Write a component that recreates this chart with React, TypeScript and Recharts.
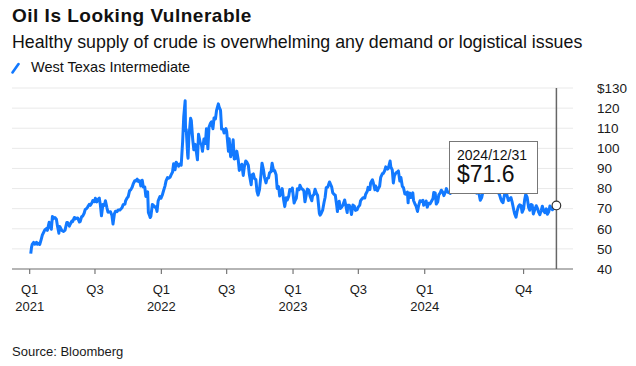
import React from 'react'
import { LineChart, Line, XAxis, YAxis, CartesianGrid, Tooltip } from 'recharts'

// WTI front-month close (MM-DD per year)
const dates2021 = [
  '01-04', '01-06', '01-08', '01-12', '01-15', '01-20', '01-22', '01-27', '01-29', '02-02', '02-05', '02-09',
  '02-12', '02-16', '02-19', '02-24', '02-26', '03-02', '03-05', '03-08', '03-12', '03-16', '03-19', '03-23',
  '03-24', '03-26', '03-31', '04-05', '04-09', '04-14', '04-16', '04-21', '04-23', '04-28', '04-30', '05-05',
  '05-07', '05-11', '05-14', '05-19', '05-21', '05-25', '05-28', '06-01', '06-04', '06-08', '06-11', '06-15',
  '06-18', '06-23', '06-25', '06-30', '07-02', '07-06', '07-09', '07-13', '07-16', '07-19', '07-23', '07-27',
  '07-30', '08-03', '08-06', '08-10', '08-13', '08-17', '08-20', '08-24', '08-27', '08-31', '09-03', '09-08',
  '09-10', '09-14', '09-17', '09-22', '09-24', '09-28', '10-01', '10-05', '10-08', '10-12', '10-15', '10-19',
  '10-22', '10-26', '10-29', '11-02', '11-05', '11-09', '11-12', '11-16', '11-19', '11-24', '11-26', '11-30',
  '12-01', '12-03', '12-07', '12-10', '12-14', '12-17', '12-20', '12-23', '12-28', '12-31'
]
const wti2021 = [
  47.62, 50.63, 52.24, 53.21, 52.36, 53.31, 52.27, 52.85, 52.2, 54.76, 56.85, 58.36,
  59.47, 60.05, 59.24, 63.22, 61.5, 59.75, 66.09, 65.05, 65.61, 64.8, 61.42, 57.76,
  61.18, 60.97, 59.16, 58.65, 59.32, 63.15, 63.13, 61.35, 62.14, 63.86, 63.58, 65.63,
  64.9, 65.28, 65.37, 63.36, 63.58, 66.07, 66.32, 67.72, 69.62, 70.05, 70.91, 72.12,
  71.64, 73.08, 74.05, 73.47, 75.16, 73.37, 74.56, 75.25, 71.81, 66.42, 72.07, 71.65,
  73.95, 70.56, 68.28, 68.29, 68.44, 66.59, 62.32, 67.54, 68.74, 68.5, 69.29, 69.3,
  69.72, 70.46, 71.97, 72.23, 73.98, 75.29, 75.88, 78.93, 79.35, 80.64, 82.28, 83.87,
  83.76, 84.65, 83.57, 83.91, 81.27, 84.15, 80.79, 80.76, 76.1, 78.39, 68.15, 66.18,
  65.57, 66.26, 72.05, 71.67, 70.73, 70.86, 68.61, 73.79, 75.98, 75.21
]

const dates2022 = [
  '01-04', '01-07', '01-11', '01-14', '01-18', '01-21', '01-25', '01-28', '02-01', '02-04', '02-08', '02-11',
  '02-15', '02-18', '02-22', '02-25', '03-01', '03-04', '03-08', '03-09', '03-11', '03-15', '03-16', '03-18',
  '03-23', '03-25', '03-29', '04-01', '04-05', '04-08', '04-11', '04-14', '04-19', '04-22', '04-25', '04-29',
  '05-03', '05-06', '05-10', '05-13', '05-17', '05-20', '05-24', '05-27', '05-31', '06-03', '06-08', '06-10',
  '06-14', '06-17', '06-21', '06-24', '06-29', '07-01', '07-06', '07-08', '07-12', '07-15', '07-19', '07-22',
  '07-26', '07-29', '08-02', '08-05', '08-09', '08-12', '08-16', '08-19', '08-23', '08-26', '08-30', '09-02',
  '09-07', '09-09', '09-13', '09-16', '09-20', '09-23', '09-26', '09-30', '10-04', '10-07', '10-11', '10-14',
  '10-18', '10-21', '10-25', '10-28', '11-01', '11-04', '11-08', '11-11', '11-15', '11-18', '11-22', '11-25',
  '11-28', '12-02', '12-06', '12-09', '12-13', '12-16', '12-20', '12-23', '12-28', '12-30'
]
const wti2022 = [
  76.99, 78.9, 81.22, 83.82, 85.43, 85.14, 85.6, 86.82, 88.2, 92.31, 89.36, 93.1,
  92.07, 91.07, 92.35, 91.59, 103.41, 115.68, 123.7, 108.7, 109.33, 96.44, 95.04, 104.7,
  114.93, 113.9, 104.24, 99.27, 101.96, 98.26, 94.29, 106.95, 102.56, 102.07, 98.54, 104.69,
  102.41, 109.77, 99.76, 110.49, 112.4, 113.23, 109.77, 115.07, 114.67, 118.87, 122.11, 120.67,
  118.93, 109.56, 109.52, 107.62, 109.78, 108.43, 98.53, 104.79, 95.84, 97.59, 104.22, 94.7,
  94.98, 98.62, 94.42, 89.01, 90.5, 92.09, 86.53, 90.77, 93.74, 93.06, 91.64, 86.87,
  81.94, 86.79, 87.31, 85.11, 84.45, 78.74, 76.71, 79.49, 86.52, 92.64, 89.35, 85.61,
  82.82, 85.05, 85.32, 87.9, 88.37, 92.61, 88.91, 88.96, 86.92, 80.08, 80.95, 76.28,
  77.24, 79.98, 74.25, 71.02, 75.39, 74.29, 76.23, 79.56, 78.96, 80.26
]

const dates2023 = [
  '01-04', '01-06', '01-10', '01-13', '01-18', '01-20', '01-24', '01-27', '01-31', '02-03', '02-07', '02-10',
  '02-14', '02-17', '02-22', '02-24', '02-28', '03-03', '03-07', '03-10', '03-15', '03-17', '03-20', '03-24',
  '03-28', '03-31', '04-03', '04-07', '04-12', '04-14', '04-18', '04-21', '04-25', '04-28', '05-02', '05-04',
  '05-05', '05-09', '05-12', '05-16', '05-19', '05-24', '05-26', '05-31', '06-02', '06-06', '06-09', '06-12',
  '06-16', '06-20', '06-23', '06-28', '06-30', '07-05', '07-07', '07-11', '07-14', '07-19', '07-21', '07-26',
  '07-28', '08-02', '08-04', '08-09', '08-11', '08-16', '08-18', '08-23', '08-25', '08-29', '09-01', '09-06',
  '09-08', '09-12', '09-15', '09-20', '09-22', '09-27', '09-29', '10-03', '10-06', '10-09', '10-13', '10-18',
  '10-20', '10-24', '10-27', '10-31', '11-03', '11-07', '11-10', '11-14', '11-16', '11-17', '11-21', '11-24',
  '11-29', '12-01', '12-05', '12-08', '12-12', '12-15', '12-19', '12-22', '12-27', '12-29'
]
const wti2023 = [
  72.84, 73.77, 75.12, 79.86, 79.48, 81.64, 80.13, 79.68, 78.87, 73.39, 77.14, 79.72,
  79.06, 76.34, 73.95, 76.32, 77.05, 79.68, 77.58, 76.68, 67.61, 66.74, 67.64, 69.26,
  73.2, 75.67, 80.42, 80.7, 83.26, 82.52, 80.86, 77.87, 77.07, 76.78, 71.66, 68.56,
  71.34, 73.71, 70.04, 70.86, 71.69, 74.34, 72.67, 68.09, 71.74, 71.74, 70.17, 67.12,
  71.78, 71.19, 69.16, 69.56, 70.64, 71.79, 73.86, 74.83, 75.42, 75.35, 77.07, 78.78,
  80.58, 79.49, 82.82, 84.4, 83.19, 79.38, 81.25, 78.89, 79.83, 81.16, 85.55, 87.54,
  87.51, 88.84, 90.77, 89.66, 90.03, 93.68, 90.79, 89.23, 82.79, 86.38, 87.69, 88.32,
  88.75, 83.74, 85.54, 81.02, 80.51, 77.37, 77.17, 78.26, 72.9, 75.89, 77.77, 75.54,
  77.86, 74.07, 72.32, 71.23, 68.61, 71.43, 73.94, 73.56, 74.11, 71.65
]

const dates2024 = [
  '01-03', '01-05', '01-08', '01-12', '01-16', '01-19', '01-24', '01-26', '01-30', '02-02', '02-06', '02-09',
  '02-13', '02-16', '02-21', '02-23', '02-28', '03-01', '03-05', '03-08', '03-12', '03-15', '03-19', '03-22',
  '03-26', '03-28', '04-02', '04-05', '04-09', '04-12', '04-17', '04-19', '04-24', '04-26', '04-30', '05-03',
  '05-07', '05-10', '05-14', '05-17', '05-21', '05-24', '05-29', '05-31', '06-03', '06-07', '06-11', '06-14',
  '06-18', '06-21', '06-25', '06-28', '07-03', '07-05', '07-09', '07-12', '07-16', '07-19', '07-24', '07-26',
  '07-30', '08-02', '08-05', '08-09', '08-13', '08-16', '08-20', '08-23', '08-27', '08-30', '09-04', '09-06',
  '09-10', '09-13', '09-17', '09-20', '09-24', '09-27', '10-01', '10-04', '10-07', '10-11', '10-15', '10-18',
  '10-22', '10-25', '10-28', '11-01', '11-05', '11-08', '11-12', '11-15', '11-19', '11-22', '11-26', '11-29',
  '12-03', '12-06', '12-10', '12-13', '12-17', '12-20', '12-24', '12-27', '12-31'
]
const wti2024 = [
  72.7, 73.81, 70.77, 72.68, 72.4, 73.41, 75.09, 78.01, 77.82, 72.28, 73.31, 76.84,
  77.87, 79.19, 77.91, 76.49, 78.54, 79.97, 78.15, 78.01, 77.56, 81.04, 83.47, 80.63,
  81.62, 83.17, 85.15, 86.91, 85.23, 85.66, 82.69, 83.14, 82.81, 83.85, 81.93, 78.11,
  78.38, 78.26, 78.02, 80.06, 79.26, 77.72, 79.23, 76.99, 74.22, 75.53, 78.9, 78.45,
  81.57, 80.73, 80.83, 81.54, 83.88, 83.16, 81.41, 82.21, 80.76, 80.13, 77.59, 77.16,
  74.73, 73.52, 72.94, 76.84, 78.35, 76.65, 74.04, 74.83, 75.53, 73.55, 69.2, 67.67,
  65.75, 68.65, 71.19, 71.92, 71.56, 68.18, 69.83, 74.38, 77.14, 75.56, 70.58, 69.22,
  72.09, 71.78, 67.38, 69.49, 71.47, 70.38, 68.12, 67.02, 69.16, 71.24, 68.77, 68.0,
  69.94, 67.2, 68.59, 71.29, 70.08, 69.46, 70.1, 70.6, 71.6
]

const xTickDates = ['2021-01-01', '2021-07-01', '2022-01-01', '2022-07-01', '2023-01-01', '2023-07-01', '2024-01-01', '2024-10-01']
const quarterLabels = ['Q1', 'Q3', 'Q1', 'Q3', 'Q1', 'Q3', 'Q1', 'Q4']
const yearLabels = ['2021', '', '2022', '', '2023', '', '2024', '']
const yTicks = [40, 50, 60, 70, 80, 90, 100, 110, 120, 130]

const FONT = "'Liberation Sans', Arial, Helvetica, sans-serif"
const BLUE = '#1279ff'
const DAY = 86400000
const START = Date.UTC(2021, 0, 1)

const toDay = (iso: string) => {
  const [y, m, d] = iso.split('-').map(Number)
  return Math.round((Date.UTC(y, m - 1, d) - START) / DAY)
}

const years = [
  { year: 2021, dates: dates2021, values: wti2021 },
  { year: 2022, dates: dates2022, values: wti2022 },
  { year: 2023, dates: dates2023, values: wti2023 },
  { year: 2024, dates: dates2024, values: wti2024 }
]

const data = years.flatMap(({ year, dates, values }) =>
  dates.map((md, i) => ({
    day: toDay(`${year}-${md}`),
    label: `${year}/${md.replace('-', '/')}`,
    price: values[i]
  }))
)

const xTicks = xTickDates.map(toDay)

function QuarterTick({ x, y, payload }: any) {
  const i = xTicks.indexOf(payload.value)
  return (
    <text x={x} y={y} textAnchor="middle" fill="#1a1a1a" fontSize={13} fontFamily={FONT}>
      <tspan x={x} dy={18}>{quarterLabels[i]}</tspan>
      {yearLabels[i] && <tspan x={x} dy={17}>{yearLabels[i]}</tspan>}
    </text>
  )
}

function PriceBox({ payload }: any) {
  if (!payload || !payload.length) return null
  const p = payload[0].payload
  return (
    <div
      style={{
        width: 89,
        height: 53,
        boxSizing: 'border-box',
        background: '#fff',
        border: '1.5px solid #777',
        padding: '6px 0 0 7px',
        fontFamily: FONT,
        color: '#111'
      }}
    >
      <div style={{ fontSize: 14, lineHeight: '14px' }}>{p.label}</div>
      <div style={{ fontSize: 23, lineHeight: '23px', marginTop: 1 }}>${p.price.toFixed(1)}</div>
    </div>
  )
}

export default function App() {
  return (
    <div style={{ position: 'absolute', left: 0, top: 0, width: 636, height: 366, background: '#fff', fontFamily: FONT, color: '#111' }}>
      <div style={{ position: 'absolute', left: 12, top: 6, fontSize: 19, lineHeight: '20px', fontWeight: 700, letterSpacing: 0.5 }}>
        Oil Is Looking Vulnerable
      </div>
      <div style={{ position: 'absolute', left: 12, top: 34, fontSize: 17.8, lineHeight: '17px', whiteSpace: 'nowrap' }}>
        Healthy supply of crude is overwhelming any demand or logistical issues
      </div>
      <div style={{ position: 'absolute', left: 11, top: 60, fontSize: 14.5, lineHeight: '15px', display: 'flex', alignItems: 'center' }}>
        <svg width={10} height={12} style={{ marginRight: 10 }}>
          <line x1={1.5} y1={10.5} x2={7.5} y2={2} stroke={BLUE} strokeWidth={2.6} strokeLinecap="round" />
        </svg>
        West Texas Intermediate
      </div>
      <div style={{ position: 'absolute', left: 12, top: 345, fontSize: 13, lineHeight: '13px', color: '#1a1a1a' }}>
        Source: Bloomberg
      </div>

      <LineChart width={636} height={366} data={data} margin={{ top: 88, right: 0, bottom: 0, left: 12 }}>
        <CartesianGrid horizontal vertical={false} stroke="#e9e9e9" strokeWidth={1} />
        <XAxis
          dataKey="day"
          type="number"
          domain={[-49, 1506]}
          ticks={xTicks}
          tick={<QuarterTick />}
          height={97}
          axisLine={{ stroke: '#777', strokeWidth: 1.2 }}
          tickLine={{ stroke: '#777', strokeWidth: 1.2 }}
          tickSize={5}
          interval={0}
        />
        <YAxis
          orientation="right"
          type="number"
          domain={[40, 130]}
          ticks={yTicks}
          interval={0}
          width={63}
          axisLine={false}
          tickLine={false}
          tickSize={6}
          tickMargin={18}
          tick={{ fill: '#1a1a1a', fontSize: 13.5, fontFamily: FONT }}
          tickFormatter={(v: number) => (v === 130 ? `$${v}` : `${v}`)}
        />
        <Tooltip
          active
          defaultIndex={data.length - 1}
          isAnimationActive={false}
          position={{ x: 449, y: 141 }}
          cursor={{ stroke: '#666', strokeWidth: 1.5 }}
          content={<PriceBox />}
          wrapperStyle={{ outline: 'none' }}
        />
        <Line
          type="linear"
          dataKey="price"
          stroke={BLUE}
          strokeWidth={3}
          strokeLinejoin="round"
          dot={false}
          activeDot={{ r: 4.3, fill: '#fff', stroke: '#333', strokeWidth: 1.2 }}
          isAnimationActive={false}
        />
      </LineChart>
    </div>
  )
}
